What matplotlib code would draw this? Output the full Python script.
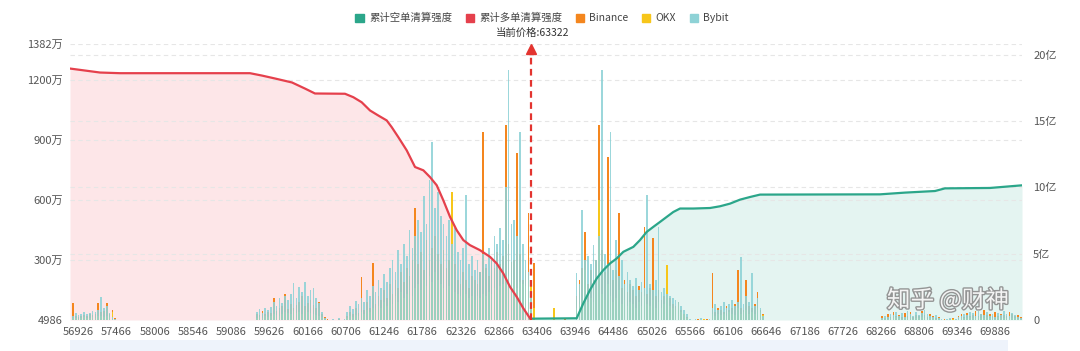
import matplotlib
matplotlib.use("Agg")
import matplotlib.pyplot as plt
import matplotlib.patheffects as pe
from matplotlib.patches import Patch, Rectangle
import numpy as np

plt.rcParams['font.family'] = ['Noto Sans CJK SC', 'DejaVu Sans']

#------------------DATA------------------#
current_price = 63322
bar_step = 40  # price step of one bar

# x tick labels (price levels)
x_ticks = [56926 + 540 * k for k in range(25)]

# left axis ticks (万)
left_ticks = [0.4986, 300, 600, 900, 1200, 1382]
left_labels = ["4986", "300万", "600万", "900万", "1200万", "1382万"]
# right axis ticks (亿)
right_ticks = [0, 5, 10, 15, 20]
right_labels = ["0", "5亿", "10亿", "15亿", "20亿"]

# liquidation bars per exchange (万), in price segments starting at these prices
seg_starts = [56846, 59446, 60526, 63966, 65606, 68286]

bybit_segs = [
    [20, 35, 25, 30, 40, 30, 35, 45, 40, 50, 115, 60, 70, 35, 15, 5],
    [40, 55, 35, 60, 50, 65, 90, 70, 110, 85, 120, 100, 130, 185, 110, 165, 140, 190, 120, 150, 160, 110, 85, 40, 10, 0],
    [5, 0, 10, 0, 8, 40, 70, 55, 95, 80,
     110, 90, 150, 120, 170, 140, 200, 160, 230, 190,
     260, 300, 240, 350, 280, 380, 320, 450, 360, 420,
     500, 440, 620, 480, 700, 890, 560, 640, 520, 480,
     420, 500, 380, 460, 340, 300, 360, 625, 280, 320,
     250, 300, 240, 330, 280, 360, 300, 420, 380, 460,
     400, 665, 1250, 480, 500, 420, 940, 380, 300, 240,
     120, 0, 0, 0, 0, 0, 0, 0, 0, 0,
     0, 0, 0, 0, 0, 0],
    [235, 180, 550, 300, 320, 280, 375, 300, 420, 1250,
     330, 280, 940, 250, 400, 220, 300, 180, 240, 200,
     170, 210, 150, 190, 160, 625, 180, 150, 200, 465,
     140, 160, 130, 120, 110, 100, 90, 70, 50, 30, 5],
    [0, 5, 0, 10, 0, 0, 8, 60, 80, 50, 70, 90, 60, 80, 100, 70, 90, 315, 80, 120, 90, 235, 70, 110, 60, 20, 0],
    [10, 20, 15, 30, 25, 40, 20, 35, 15, 45, 30, 20, 40, 25, 35, 50, 30, 20, 15, 25,
     10, 5, 0, 5, 10, 0, 5, 15, 20, 30, 25, 40, 35, 20, 45, 30, 25, 40, 20, 30,
     15, 35, 25, 45, 30, 20, 35, 25, 15, 10],
]

binance_segs = [
    [85, 20, 15, 20, 25, 20, 30, 25, 30, 85, 40, 45, 85, 30, 50, 10],
    [30, 25, 45, 30, 40, 35, 110, 45, 60, 70, 130, 55, 80, 60, 75, 90, 120, 70, 85, 100, 75, 60, 90, 30, 15, 5],
    [0, 0, 5, 0, 0, 20, 40, 30, 60, 35,
     215, 50, 90, 60, 285, 80, 120, 100, 150, 110,
     180, 130, 200, 160, 240, 190, 260, 220, 300, 560,
     280, 340, 250, 400, 300, 360, 420, 330, 280, 350,
     260, 300, 220, 280, 200, 180, 240, 200, 160, 220,
     200, 180, 240, 940, 260, 220, 300, 260, 340, 280,
     320, 975, 380, 290, 300, 835, 330, 200, 250, 535,
     150, 285, 0, 0, 0, 0, 0, 0, 0, 0,
     0, 0, 10, 0, 0, 0],
    [120, 200, 260, 440, 180, 250, 200, 300, 975, 350,
     240, 815, 300, 200, 250, 535, 160, 200, 140, 180,
     150, 120, 170, 140, 465, 130, 160, 410, 120, 150,
     100, 120, 90, 110, 80, 70, 60, 50, 30, 15, 0],
    [0, 0, 5, 0, 0, 5, 0, 235, 40, 60, 50, 40, 70, 50, 60, 80, 250, 60, 50, 200, 70, 60, 80, 140, 50, 30, 0],
    [20, 10, 30, 15, 40, 20, 25, 15, 35, 20, 40, 15, 25, 20, 45, 25, 15, 30, 20, 10,
     15, 0, 5, 0, 5, 10, 0, 20, 30, 15, 35, 20, 25, 45, 20, 30, 50, 25, 30, 20,
     40, 20, 30, 25, 20, 40, 30, 20, 25, 15],
]

okx_segs = [
    [10, 10, 5, 10, 15, 10, 10, 15, 10, 20, 20, 15, 20, 15, 40, 5],
    [10, 15, 10, 20, 15, 20, 30, 25, 20, 30, 40, 35, 30, 45, 35, 40, 30, 50, 40, 35, 30, 25, 20, 15, 5, 0],
    [0, 0, 0, 0, 0, 10, 20, 15, 25, 20,
     40, 30, 50, 40, 60, 50, 70, 60, 90, 70,
     100, 80, 120, 90, 140, 110, 130, 150, 120, 160,
     180, 150, 200, 170, 220, 190, 240, 200, 180, 160,
     150, 170, 640, 140, 130, 120, 150, 130, 110, 120,
     100, 120, 110, 130, 120, 140, 130, 160, 150, 170,
     180, 200, 220, 180, 200, 160, 190, 180, 170, 200,
     180, 60, 0, 0, 0, 0, 0, 0, 60, 0,
     0, 0, 0, 0, 0, 0],
    [60, 80, 100, 250, 90, 110, 90, 150, 600, 130,
     100, 180, 120, 90, 110, 150, 80, 100, 70, 90,
     80, 60, 90, 70, 120, 80, 70, 100, 60, 90,
     60, 80, 275, 70, 60, 50, 90, 40, 30, 10, 0],
    [0, 0, 0, 0, 5, 0, 0, 30, 20, 30, 25, 30, 20, 40, 30, 25, 60, 30, 40, 50, 30, 40, 30, 60, 40, 25, 0],
    [5, 10, 8, 12, 10, 15, 10, 8, 12, 10, 15, 8, 10, 12, 15, 10, 8, 12, 10, 5,
     5, 0, 0, 0, 0, 5, 0, 8, 10, 12, 10, 15, 12, 10, 15, 10, 12, 15, 10, 12,
     8, 15, 10, 12, 10, 8, 12, 10, 8, 5],
]

# cumulative long liquidation (亿), left of current price
long_px = [56806, 57089, 57230, 57513, 59350, 59520, 59704, 59944, 60128, 60269, 60693,
           60811, 60929, 61047, 61164, 61283, 61354, 61447, 61566, 61683, 61801, 61895,
           61990, 62083, 62178, 62272, 62366, 62460, 62602, 62743, 62838, 62931, 63026,
           63120, 63214, 63308, 63322]
long_val = [18.95, 18.75, 18.65, 18.6, 18.6, 18.42, 18.2, 17.9, 17.44, 17.07, 17.05,
            16.79, 16.41, 15.79, 15.41, 15.04, 14.53, 13.78, 12.78, 11.53, 11.28, 10.77,
            10.15, 9.02, 7.77, 6.77, 6.02, 5.64, 5.26, 4.76, 4.26, 3.51, 2.5,
            1.75, 0.88, 0.13, 0.0]

# cumulative short liquidation (亿), right of current price
short_px = [63322, 63968, 64062, 64156, 64251, 64345, 64439, 64534, 64628, 64769, 64863,
            64958, 65052, 65146, 65241, 65334, 65429, 65617, 65853, 65994, 66136, 66277,
            66419, 66560, 68256, 68609, 69033, 69174, 69810, 70263]
short_val = [0.1, 0.13, 1.25, 2.26, 3.13, 3.76, 4.26, 4.64, 5.14, 5.51, 6.02,
             6.64, 7.02, 7.39, 7.77, 8.14, 8.4, 8.4, 8.44, 8.57, 8.77, 9.07,
             9.27, 9.45, 9.47, 9.6, 9.72, 9.92, 9.95, 10.15]

#------------------COLORS------------------#
c_short = "#2ba68a"
c_long = "#e5404c"
c_binance = "#f4861e"
c_okx = "#f7c61a"
c_bybit = "#8ed2d6"

#------------------FIGURE------------------#
fig = plt.figure(figsize=(10.8, 3.51), dpi=100)
rect = [70 / 1080, 1 - 320 / 351, (1022 - 70) / 1080, (320 - 44) / 351]
xlim = (56806, 70263)
rmax = 20.8

# background axis: fills + right grid
ax_bg = fig.add_axes(rect)
ax_bg.set_xlim(*xlim)
ax_bg.set_ylim(0, rmax)
ax_bg.fill_between(long_px, long_val, 0, color="#fde6e8", lw=0)
ax_bg.fill_between(short_px, short_val, 0, color="#e4f4f1", lw=0)
for t in right_ticks[1:]:
    ax_bg.axhline(t, color="#e6e6e6", lw=0.8, ls=(0, (4, 3)))
ax_bg.axis("off")

# bars axis (left scale)
ax = fig.add_axes(rect)
ax.patch.set_alpha(0)
ax.set_xlim(*xlim)
ax.set_ylim(left_ticks[0], left_ticks[-1])
for t in left_ticks[1:]:
    ax.axhline(t, color="#e6e6e6", lw=0.8, ls=(0, (4, 3)), zorder=0)

for series, col, a in [(binance_segs, c_binance, 1.0), (okx_segs, c_okx, 1.0), (bybit_segs, c_bybit, 0.88)]:
    for start, vals in zip(seg_starts, series):
        xs = start + bar_step * np.arange(len(vals))
        ax.bar(xs, vals, width=bar_step * 0.6, color=col, alpha=a, lw=0, zorder=2)

ax.set_xticks(x_ticks)
ax.set_xticklabels([str(v) for v in x_ticks], fontsize=8, color="#555555")
ax.set_yticks(left_ticks)
ax.set_yticklabels(left_labels, fontsize=8, color="#555555")
ax.tick_params(length=0, pad=5)
for s in ax.spines.values():
    s.set_visible(False)

# cumulative lines (right scale)
ax2 = ax.twinx()
ax2.set_xlim(*xlim)
ax2.set_ylim(0, rmax)
ax2.plot(long_px, long_val, color=c_long, lw=1.6, zorder=3)
ax2.plot(short_px, short_val, color=c_short, lw=1.6, zorder=3)
ax2.plot([current_price, current_price], [0, rmax - 0.5], color="#e3342f", lw=1.6,
         ls=(0, (3, 2)), zorder=4)
ax2.plot([current_price], [rmax - 0.4], marker="^", color="#e3342f", ms=7, clip_on=False, zorder=4)
ax2.set_yticks(right_ticks)
ax2.set_yticklabels(right_labels, fontsize=8, color="#555555")
ax2.tick_params(length=0, pad=8)
for s in ax2.spines.values():
    s.set_visible(False)

fig.text(533 / 1080, 1 - 33 / 351, "当前价格:63322", ha="center", va="center", fontsize=7.5, color="#333333")

handles = [Patch(color=c_short, label="累计空单清算强度"),
           Patch(color=c_long, label="累计多单清算强度"),
           Patch(color=c_binance, label="Binance"),
           Patch(color=c_okx, label="OKX"),
           Patch(color=c_bybit, label="Bybit")]
leg = fig.legend(handles=handles, loc="center", bbox_to_anchor=(542 / 1080, 1 - 18 / 351), ncol=5,
                 frameon=False, fontsize=7.5, handlelength=0.8, handleheight=0.8,
                 handletextpad=0.5, columnspacing=1.3)
for t in leg.get_texts():
    t.set_color("#444444")

# slider band under the axis
fig.patches.append(Rectangle((70 / 1080, 0), 938 / 1080, 11 / 351, transform=fig.transFigure,
                             color="#eef3fb", lw=0))

# watermark
fig.text(948 / 1080, 1 - 300 / 351, "知乎 @财神", ha="center", va="center", fontsize=17,
         color="white", alpha=0.9,
         path_effects=[pe.withStroke(linewidth=2, foreground="#8a8a8a")])

fig.savefig("out.png", dpi=100)
